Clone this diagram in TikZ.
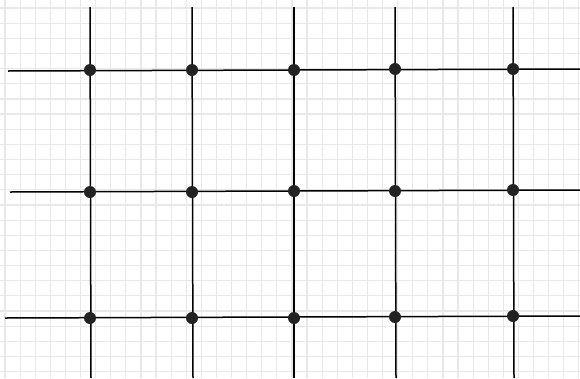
\documentclass[tikz,border=0pt]{standalone}
\definecolor{gridgray}{HTML}{E8E8E8}
\definecolor{dotblack}{HTML}{222222}
\tikzset{
  gridline/.style={draw=gridgray, line width=1.2pt},
  mainline/.style={draw=black, line width=1.5pt},
  dot/.style={circle, fill=dotblack, inner sep=0pt, minimum size=12pt}
}
\begin{document}
\begin{tikzpicture}[x=1pt,y=-1pt]
\useasboundingbox (0,0) rectangle (580,378);
\fill[white] (0,0) rectangle (580,378);
% background grid
\foreach \i in {0,...,38} { \draw[gridline] ({5+15.1*\i},0) -- ({5+15.1*\i},378); }
\foreach \j in {0,...,24} { \draw[gridline] (0,{8+15.15*\j}) -- (580,{8+15.15*\j}); }
% line end points
\coordinate (h1a) at (8,71);  \coordinate (h1b) at (580,69);
\coordinate (h2a) at (10,192); \coordinate (h2b) at (580,190);
\coordinate (h3a) at (5,318);  \coordinate (h3b) at (580,316);
\coordinate (v1a) at (90,7);  \coordinate (v1b) at (91,378);
\coordinate (v2a) at (192,7); \coordinate (v2b) at (193,378);
\coordinate (v3a) at (294,7); \coordinate (v3b) at (294,378);
\coordinate (v4a) at (395,7); \coordinate (v4b) at (396,378);
\coordinate (v5a) at (513,7); \coordinate (v5b) at (514,378);
\draw[mainline] (h1a) -- (h1b);
\draw[mainline] (h2a) -- (h2b);
\draw[mainline] (h3a) -- (h3b);
\draw[mainline] (v1a) -- (v1b);
\draw[mainline] (v2a) -- (v2b);
\draw[mainline] (v3a) -- (v3b);
\draw[mainline] (v4a) -- (v4b);
\draw[mainline] (v5a) -- (v5b);
% dots
\node[dot] (d11) at (90,70) {};
\node[dot] (d12) at (192,70) {};
\node[dot] (d13) at (294,70) {};
\node[dot] (d14) at (395,69) {};
\node[dot] (d15) at (513,69) {};
\node[dot] (d21) at (90,192) {};
\node[dot] (d22) at (192,192) {};
\node[dot] (d23) at (294,191) {};
\node[dot] (d24) at (395,191) {};
\node[dot] (d25) at (513,190) {};
\node[dot] (d31) at (90,318) {};
\node[dot] (d32) at (192,318) {};
\node[dot] (d33) at (294,318) {};
\node[dot] (d34) at (395,317) {};
\node[dot] (d35) at (513,316) {};
\end{tikzpicture}
\end{document}
